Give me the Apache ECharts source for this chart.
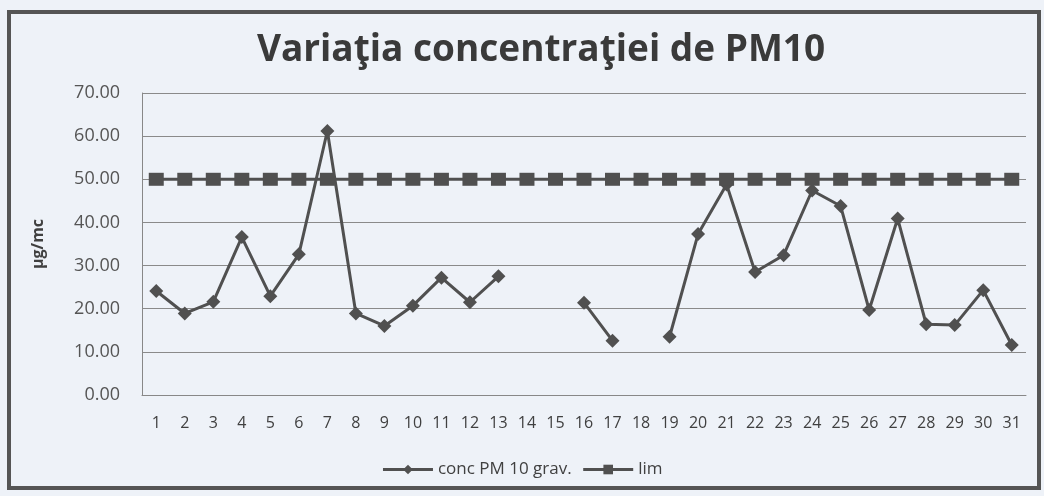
<!DOCTYPE html>
<html><head><meta charset="utf-8">
<script src="https://cdn.jsdelivr.net/npm/echarts@6/dist/echarts.min.js"></script>
<style>html,body{margin:0;padding:0;background:#eef2f8;}#c{width:1044px;height:496px;}</style>
</head><body><div id="c"></div>
<script>
var days = ['1','2','3','4','5','6','7','8','9','10','11','12','13','14','15','16','17','18','19','20','21','22','23','24','25','26','27','28','29','30','31'];
var concPM10 = [24.1,18.9,21.6,36.6,22.9,32.6,61.2,18.9,16.0,20.7,27.2,21.5,27.5,null,null,21.4,12.6,null,13.5,37.3,48.8,28.5,32.4,47.4,43.8,19.7,40.9,16.4,16.2,24.3,11.6];
var lim = [50,50,50,50,50,50,50,50,50,50,50,50,50,50,50,50,50,50,50,50,50,50,50,50,50,50,50,50,50,50,50];
var yTicks = [0,10,20,30,40,50,60,70];

var chart = echarts.init(document.getElementById('c'));
chart.setOption({
  backgroundColor: '#eef2f8',
  animation: false,
  title: {
    text: 'Variaţia concentraţiei de PM10',
    left: 536, textAlign: 'center', top: 27,
    textStyle: {fontFamily: 'Open Sans', fontWeight: 'bold', fontSize: 37, color: '#3a3a3a'}
  },
  graphic: [{
    type: 'rect', shape: {x: 9, y: 12, width: 1030, height: 476},
    style: {fill: 'none', stroke: '#555', lineWidth: 4}, z: -1
  }],
  grid: {left: 142, right: 18, top: 93, bottom: 101},
  legend: {
    top: 456, left: 'center', itemGap: 10, itemWidth: 50, itemHeight: 12,
    lineStyle: {width: 3},
    textStyle: {fontFamily: 'Open Sans', fontSize: 17, color: '#404040'},
    data: ['conc PM 10 grav.', 'lim']
  },
  xAxis: {
    type: 'category', data: days, boundaryGap: true,
    axisLine: {show: true, lineStyle: {color: '#888', width: 1}},
    axisTick: {show: false},
    axisLabel: {fontFamily: 'Open Sans', fontSize: 16, color: '#404040', margin: 20, interval: 0}
  },
  yAxis: {
    type: 'value', min: 0, max: 70, interval: 10,
    name: 'µg/mc', nameLocation: 'middle', nameGap: 96, nameRotate: 90,
    nameTextStyle: {fontFamily: 'Open Sans', fontSize: 16, fontWeight: 'bold', color: '#404040'},
    axisLine: {show: true, lineStyle: {color: '#888', width: 1}},
    axisTick: {show: false},
    splitLine: {lineStyle: {color: '#8a8a8a', width: 1}},
    axisLabel: {fontFamily: 'Open Sans', fontSize: 18, color: '#555', margin: 22,
      formatter: function(v){ return yTicks.indexOf(v) >= 0 ? v.toFixed(2) : ''; }}
  },
  series: [{
    name: 'conc PM 10 grav.', type: 'line', data: concPM10, connectNulls: false,
    symbol: 'diamond', symbolSize: 14,
    lineStyle: {color: '#505050', width: 3}, itemStyle: {color: '#505050'}
  }, {
    name: 'lim', type: 'line', data: lim,
    symbol: 'rect', symbolSize: [15, 13],
    lineStyle: {color: '#505050', width: 3}, itemStyle: {color: '#505050'}
  }]
});
</script></body></html>
